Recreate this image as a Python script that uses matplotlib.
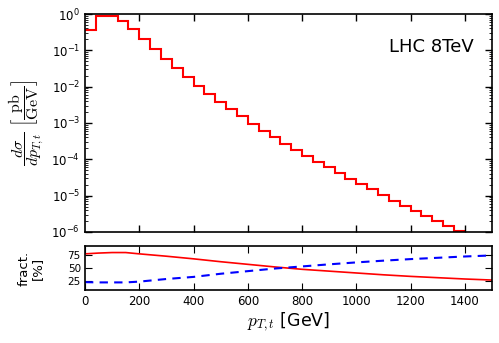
import numpy as np
import matplotlib
matplotlib.use("Agg")
import matplotlib.pyplot as plt
from matplotlib.ticker import LogLocator, NullFormatter, FixedLocator

plt.rcParams['mathtext.fontset'] = 'cm'
plt.rcParams['font.family'] = 'DejaVu Sans'

# histogram: bin edges (GeV) and differential cross section (pb/GeV)
bin_edges = [0, 40, 80, 120, 160, 200, 240, 280, 320, 360, 400, 440, 480, 520, 560,
             600, 640, 680, 720, 760, 800, 840, 880, 920, 960, 1000, 1040, 1080,
             1120, 1160, 1200, 1240, 1280, 1320, 1360, 1400]
dsigma = [0.37, 0.86, 0.90, 0.64, 0.38, 0.21, 0.111, 0.059, 0.033, 0.0185,
          0.0107, 0.0062, 0.0038, 0.0024, 0.00156, 9.4e-4, 6.2e-4, 4.07e-4,
          2.7e-4, 1.8e-4, 1.23e-4, 8.6e-5, 6.0e-5, 4.1e-5, 2.9e-5, 2.1e-5,
          1.49e-5, 1.04e-5, 7.3e-6, 5.3e-6, 3.8e-6, 2.7e-6, 2.0e-6, 1.46e-6, 1.05e-6]

# fractions (%)
frac_x = [0, 50, 100, 150, 200, 300, 400, 500, 600, 700, 800, 900, 1000, 1100,
          1200, 1300, 1400, 1500]
frac_red = [77, 78.5, 79.5, 79.5, 77, 72.5, 67.5, 62, 57, 52, 47.5, 44, 40.5,
            37, 34, 31.5, 29, 27]
frac_blue = [23, 22.5, 22.5, 22.5, 24, 29, 33, 39, 44, 49, 53, 57, 60.7, 64,
             67, 69.5, 72, 74]

fig = plt.figure(figsize=(4.99, 3.43), dpi=100)
ax1 = fig.add_axes([85/499, 1-232/343, 407/499, 218/343])
ax2 = fig.add_axes([85/499, 1-290/343, 407/499, 44/343])

ax1.stairs(dsigma, bin_edges, color='red', lw=1.5, baseline=None)
ax1.set_yscale('log')
ax1.set_ylim(1e-6, 1)
ax1.set_xlim(0, 1500)
ax1.xaxis.set_major_locator(FixedLocator([200, 400, 600, 800, 1000, 1200, 1400]))
ax1.set_xticklabels([])
ax1.yaxis.set_major_locator(LogLocator(base=10, numticks=20))
ax1.yaxis.set_minor_locator(LogLocator(base=10, subs=np.arange(2, 10), numticks=20))
ax1.yaxis.set_minor_formatter(NullFormatter())
ax1.tick_params(which='both', direction='in', top=True, right=True, labelsize=8.5)
ax1.tick_params(which='major', length=5, width=1)
ax1.tick_params(which='minor', length=2.5, width=0.6)
ax1.set_ylabel(r'$\dfrac{d\sigma}{dp_{T,t}}\ \left[\dfrac{\rm pb}{\rm GeV}\right]$', fontsize=11.5)
ax1.yaxis.set_label_coords(-0.095, 0.5)
ax1.text(0.955, 0.85, 'LHC 8TeV', transform=ax1.transAxes, ha='right', va='center', fontsize=13)

ax2.plot(frac_x, frac_red, color='red', lw=1.2)
ax2.plot(frac_x, frac_blue, color='blue', lw=1.5, ls=(0, (4, 3)))
ax2.set_xlim(0, 1500)
ax2.set_ylim(8, 92)
ax2.set_yticks([25, 50, 75])
ax2.xaxis.set_major_locator(FixedLocator([0, 200, 400, 600, 800, 1000, 1200, 1400]))
ax2.tick_params(axis='x', which='both', direction='in', top=True, labelsize=8.5, length=5)
ax2.tick_params(axis='y', which='both', direction='in', right=True, labelsize=7.5, length=5, pad=3)
ax2.set_ylabel('fract.\n[%]', fontsize=9.5, linespacing=1.1)
ax2.yaxis.set_label_coords(-0.10, 0.5)
ax2.set_xlabel(r'$p_{T,t}$ [GeV]', fontsize=12.5, labelpad=2)

for ax in (ax1, ax2):
    for s in ax.spines.values():
        s.set_linewidth(1.2)

fig.savefig('out.png', dpi=100)
